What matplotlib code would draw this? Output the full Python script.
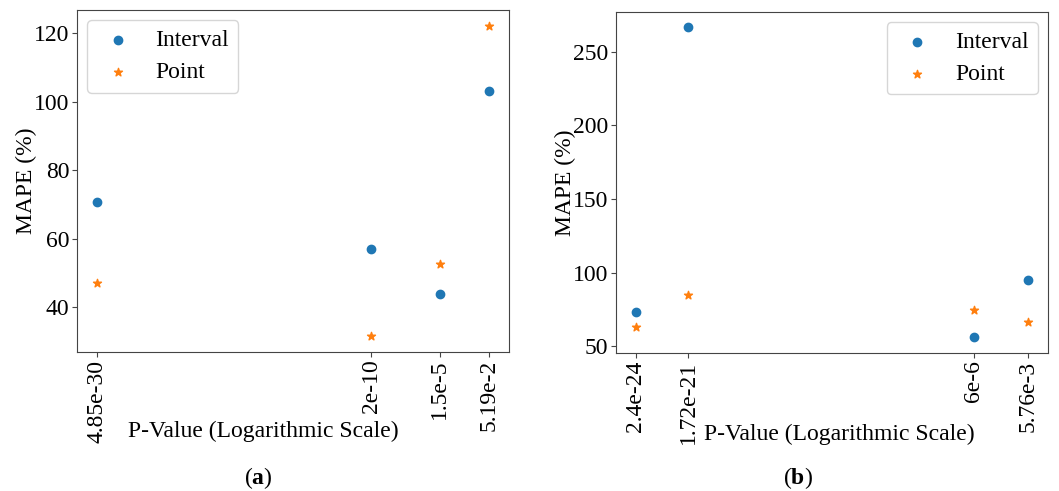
import numpy as np
import matplotlib
matplotlib.use("Agg")
import matplotlib.pyplot as plt
from matplotlib.ticker import NullLocator

plt.rcParams['font.family'] = 'serif'
plt.rcParams['font.serif'] = ['Liberation Serif', 'DejaVu Serif']
plt.rcParams['mathtext.fontset'] = 'custom'
plt.rcParams['mathtext.rm'] = 'Liberation Serif'
plt.rcParams['mathtext.bf'] = 'Liberation Serif:bold'

# panel (a)
pvals_a = [4.85e-30, 2e-10, 1.5e-5, 5.19e-2]
plabels_a = ["4.85e-30", "2e-10", "1.5e-5", "5.19e-2"]
interval_a = [70.9, 57.0, 43.9, 103.2]
point_a = [47.0, 31.5, 52.8, 122.3]

# panel (b)
pvals_b = [2.4e-24, 1.72e-21, 6e-6, 5.76e-3]
plabels_b = ["2.4e-24", "1.72e-21", "6e-6", "5.76e-3"]
interval_b = [73.3, 266.5, 56.1, 94.8]
point_b = [62.9, 84.6, 74.7, 66.3]

fs = 17

fig = plt.figure(figsize=(10.59, 4.91), dpi=100)
ax1 = fig.add_axes([0.0727, 0.2831, 0.4079, 0.6965])
ax2 = fig.add_axes([0.5817, 0.2811, 0.4079, 0.6945])


def draw(ax, pv, labels, interval, point, loc, xlab_pos):
    ax.scatter(pv, interval, color="#1f77b4", marker="o", label="Interval")
    ax.scatter(pv, point, color="#ff7f0e", marker="*", label="Point")
    ax.set_xscale("log")
    ax.set_xticks(pv)
    ax.set_xticklabels(labels, rotation=90)
    ax.xaxis.set_minor_locator(NullLocator())
    ax.tick_params(labelsize=fs, color="#444444", pad=2)
    ax.set_xlabel("P-Value (Logarithmic Scale)", fontsize=fs)
    ax.xaxis.set_label_coords(*xlab_pos)
    ax.set_ylabel("MAPE (%)", fontsize=fs, labelpad=-2)
    for s in ax.spines.values():
        s.set_color("#444444")
    ax.legend(loc=loc, fontsize=fs, handlelength=1.8, handletextpad=0.7,
              borderpad=0.4, labelspacing=0.45, borderaxespad=0.42)


draw(ax1, pvals_a, plabels_a, interval_a, point_a, "upper left", (0.432, -0.2))
draw(ax2, pvals_b, plabels_b, interval_b, point_b, "upper right", (0.517, -0.209))

fig.text(0.2436, 0.0265, r"($\mathbf{a}$)", fontsize=fs, ha="center", va="center")
fig.text(0.7535, 0.0265, r"($\mathbf{b}$)", fontsize=fs, ha="center", va="center")

fig.savefig("out.png", dpi=100)
